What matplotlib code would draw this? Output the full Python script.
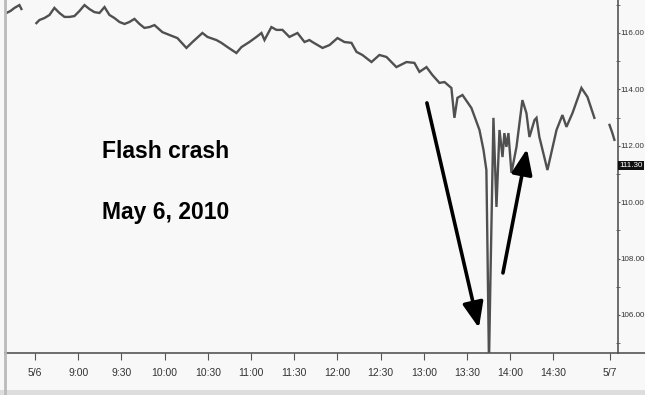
import numpy as np
import matplotlib
matplotlib.use("Agg")
import matplotlib.pyplot as plt
import matplotlib.transforms as mtransforms
from matplotlib import font_manager
from matplotlib.ticker import MultipleLocator

# minutes after 08:30 on 5/6 (gaps marked with nan), price
minutes = [-19.8, -17.0, -14.2, -10.8, -9.4, np.nan,
           1.0, 3.1, 6.6, 10.1, 13.5, 17.0, 20.5, 24.0, 27.4, 30.9, 34.4, 37.8,
           41.3, 44.8, 48.3, 51.7, 55.2, 58.7, 62.2, 65.6, 69.1, 72.6, 76.0,
           79.5, 83.0, 88.5, 93.4, 98.9, 105.2, 109.4, 116.3, 119.8, 126.0,
           129.5, 133.7, 139.9, 143.4, 148.9, 153.8, 157.3, 159.4, 164.2, 167.7,
           171.9, 176.7, 182.3, 187.2, 190.6, 192.7, 199.7, 204.5, 210.1, 214.9,
           219.8, 223.3, 227.4, 233.7, 239.2, 244.1, 251.0, 258.0, 263.5, 267.0,
           271.9, 276.0, 280.9, 284.4, 289.2, 291.3, 293.4, 296.9, 303.1, 308.7,
           311.5, 313.5, 314.2, 315.3, 316.3, 318.4, 320.5, 322.6, 324.7, 326.0,
           327.4, 328.8, 330.9, 334.4, 338.5, 341.3, 343.4, 346.9, 348.3, 350.3,
           355.9, 362.2, 366.3, 369.1, 373.3, 379.5, 383.7, 388.5, np.nan,
           399.0, 401.0, 402.4]
price = [116.71, 116.78, 116.89, 116.99, 116.85, np.nan,
         116.35, 116.46, 116.53, 116.64, 116.89, 116.71, 116.57, 116.57, 116.60,
         116.78, 116.99, 116.85, 116.74, 116.71, 116.92, 116.64, 116.53, 116.39,
         116.32, 116.39, 116.50, 116.32, 116.18, 116.21, 116.28, 116.03, 115.93,
         115.82, 115.47, 115.68, 116.00, 115.86, 115.75, 115.65, 115.50, 115.29,
         115.50, 115.68, 115.86, 116.00, 115.75, 116.21, 116.11, 116.11, 115.86,
         116.00, 115.68, 115.75, 115.68, 115.47, 115.57, 115.82, 115.68, 115.65,
         115.33, 115.22, 114.97, 115.22, 115.15, 114.79, 114.97, 114.94, 114.62,
         114.79, 114.51, 114.23, 114.26, 114.05, 112.99, 113.70, 113.80, 113.34,
         112.56, 111.85, 111.14, 108.55, 104.30, 107.24, 112.99, 109.83, 112.56,
         111.60, 112.45, 111.96, 112.45, 111.04, 111.96, 113.62, 113.16, 112.31,
         112.91, 112.99, 112.31, 111.14, 112.56, 113.09, 112.67, 113.16, 114.05,
         113.73, 112.99, np.nan,
         112.74, 112.45, 112.21]

tick_minutes = [0, 30, 60, 90, 120, 150, 180, 210, 240, 270, 300, 330, 360, 399]
tick_labels = ["5/6", "9:00", "9:30", "10:00", "10:30", "11:00", "11:30",
               "12:00", "12:30", "13:00", "13:30", "14:00", "14:30", "5/7"]
price_ticks = [106, 108, 110, 112, 114, 116]
last_price = 111.30

# pick a condensed face if there is one
installed = {f.name for f in font_manager.fontManager.ttflist}
if "Liberation Sans Narrow" in installed:
    narrow = ["Liberation Sans Narrow", "DejaVu Sans"]
    big, small, ysize = 20, 8.5, 7
else:
    narrow = ["Liberation Sans", "DejaVu Sans"]
    big, small, ysize = 16.5, 7.5, 5.8

fig = plt.figure(figsize=(6.45, 3.95), dpi=100, facecolor="#f8f8f8")
ax = fig.add_axes([5 / 645, 42 / 395, 613 / 645, 353 / 395], facecolor="#f8f8f8")

ax.plot(minutes, price, color="#505050", lw=1.7, solid_joinstyle="miter")

ax.set_xlim(-20.8, 404.9)
ax.set_ylim(104.65, 117.17)

ax.set_xticks(tick_minutes)
ax.set_xticklabels(tick_labels, family=narrow, fontsize=small, color="#333333")
ax.tick_params(axis="x", direction="out", length=5, color="#555555", pad=6)

ax.yaxis.tick_right()
ax.set_yticks(price_ticks)
ax.set_yticklabels(["%.2f" % v for v in price_ticks],
                   family=narrow, fontsize=ysize, color="#333333")
ax.yaxis.set_minor_locator(MultipleLocator(1))
ax.tick_params(axis="y", which="major", direction="out", length=1.5, color="#555555", pad=0.3)
ax.tick_params(axis="y", which="minor", direction="inout", length=3, color="#555555")

ax.spines["top"].set_visible(False)
ax.spines["right"].set_color("#555555")
ax.spines["right"].set_linewidth(1.2)
ax.spines["left"].set_color("#bbbbbb")
ax.spines["left"].set_linewidth(2)
ax.spines["bottom"].set_color("#555555")
ax.spines["bottom"].set_linewidth(1.2)

# bottom axis line continues past the price axis
fig.add_artist(plt.Line2D([618 / 645, 1], [42 / 395, 42 / 395], color="#555555", lw=1.2))
# left frame continues below axis
fig.add_artist(plt.Line2D([5 / 645, 5 / 645], [0, 42 / 395], color="#bbbbbb", lw=2))
# bottom strip
fig.add_artist(plt.Rectangle((0, 0), 1, 5 / 395, color="#dddddd", lw=0))

# last price box
trans = mtransforms.blended_transform_factory(ax.transAxes, ax.transData)
ax.text(1.002, last_price, "%.2f" % last_price, transform=trans, ha="left", va="center",
        family=narrow, fontsize=ysize, color="white", clip_on=False,
        bbox=dict(boxstyle="square,pad=0.15", fc="#111111", ec="none"))

# arrows
arrow = dict(arrowstyle="-|>,head_length=1.1,head_width=0.45", lw=2.6, color="black",
             mutation_scale=14, shrinkA=0, shrinkB=0)
ax.annotate("", xy=(308.3, 105.54), xytext=(272.2, 113.52), arrowprops=arrow)
ax.annotate("", xy=(341.7, 111.89), xytext=(325.0, 107.49), arrowprops=arrow)

fig.text(166 / 645, 1 - 151 / 395, "Flash crash", ha="center", va="center",
         family=narrow, fontsize=big, fontweight="bold", color="black")
fig.text(166 / 645, 1 - 212 / 395, "May 6, 2010", ha="center", va="center",
         family=narrow, fontsize=big, fontweight="bold", color="black")

fig.savefig("out.png", dpi=100, facecolor=fig.get_facecolor())
